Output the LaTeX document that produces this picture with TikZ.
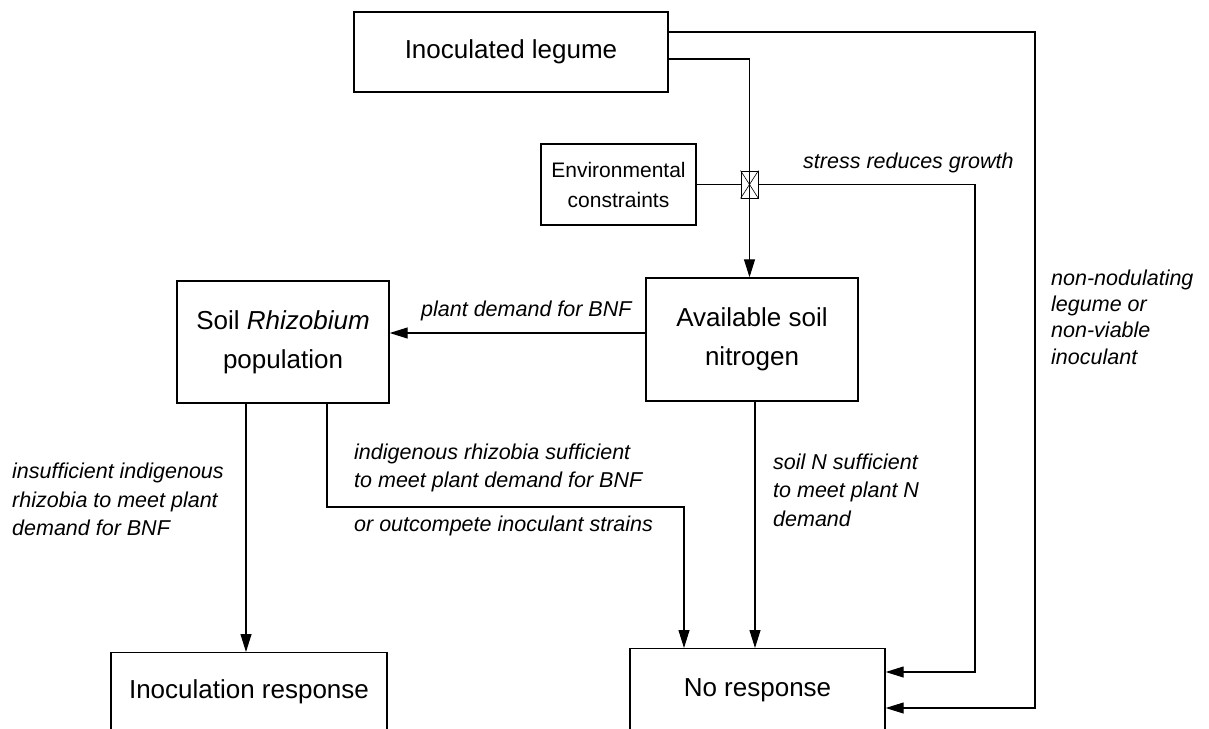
\documentclass[tikz,border=0pt]{standalone}
\usepackage{fontspec}
\setmainfont{Liberation Sans}
\usetikzlibrary{arrows.meta,calc}
\begin{document}
\begin{tikzpicture}[x=1pt,y=-1pt,
  box/.style={draw,line width=1.4pt,inner sep=0pt,align=center,font=\fontsize{26}{39}\selectfont},
  openbox/.style={draw,line width=1.4pt,inner sep=0pt,anchor=north,font=\fontsize{26}{39}\selectfont},
  sbox/.style={draw,line width=1.4pt,inner sep=0pt,align=center,font=\fontsize{21}{30}\selectfont},
  conn/.style={line width=1.1pt},
  arr/.style={conn,-{Triangle[length=18pt,width=11pt]}},
  lab/.style={inner sep=0pt,anchor=west,align=left,font=\fontsize{21.5}{28.5}\selectfont\itshape}]
\useasboundingbox (0,0) rectangle (1209,728);
\clip (0,0) rectangle (1209,728);

% boxes
\node[box,minimum width=314pt,minimum height=80pt] (inoc) at (511,52) {Inoculated legume};
\node[sbox,minimum width=155pt,minimum height=81pt] (env) at (618.5,184.5) {Environmental\\constraints};
\node[draw,line width=0.9pt,minimum width=17pt,minimum height=27pt,inner sep=0pt] (cross) at (749.5,184.5) {};
\draw[line width=0.6pt] (cross.north west) -- (cross.south east) (cross.north east) -- (cross.south west);
\node[box,minimum width=212pt,minimum height=123pt] (avail) at (752,339.5) {Available soil\\nitrogen};
\node[box,minimum width=212pt,minimum height=122pt] (soil) at (283,342) {Soil \textit{Rhizobium}\\population};
\node[openbox,minimum width=276pt,text height=46pt,text depth=47pt] (inresp) at (249,652) {Inoculation response};
\node[openbox,minimum width=255pt,text height=48pt,text depth=47pt] (nores) at (757.5,648) {No response};

% connectors
\coordinate (rt) at (1035,32);
\draw[arr] (inoc.east |- rt) -- (rt) |- (nores.east |- 0,708);
\draw[arr] (inoc.east |- 0,59) -| (cross.center |- avail.north);
\coordinate (st) at (975,184.5);
\draw[conn] (env.east) -- (cross.west);
\draw[arr] (cross.east) -- (st) |- (nores.east |- 0,672);
\draw[arr] (avail.west |- 0,333) -- (soil.east |- 0,333);
\draw[arr] (soil.south -| 246,0) -- (inresp.north -| 246,0);
\coordinate (oc) at (684,507);
\draw[arr] (soil.south -| 327,0) |- (oc) -- (nores.north -| oc);
\draw[arr] (avail.south -| 755,0) -- (nores.north -| 755,0);

% labels
\node[lab] (l1) at (803,163) {stress reduces growth};
\node[lab] (l2) at (421,311) {plant demand for BNF};
\node[lab] (l3) at (12,499.5) {insufficient indigenous\\rhizobia to meet plant\\demand for BNF};
\node[lab] (l4) at (354,468) {indigenous rhizobia sufficient\\to meet plant demand for BNF};
\node[lab] (l5) at (354,526) {or outcompete inoculant strains};
\node[lab] (l6) at (773,490) {soil N sufficient\\to meet plant N\\demand};
\node[lab,font=\fontsize{21.5}{26.3}\selectfont\itshape] (l7) at (1051,317) {non-nodulating\\legume or\\non-viable\\inoculant};
\end{tikzpicture}
\end{document}
